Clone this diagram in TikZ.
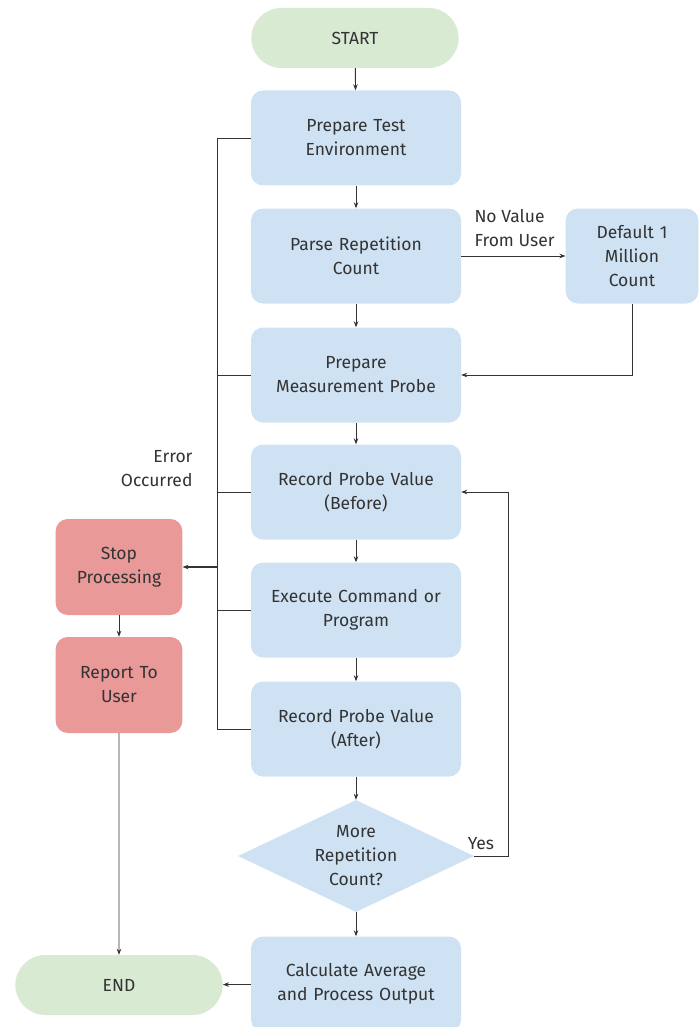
\documentclass[tikz,border=0pt]{standalone}
\usepackage{fontspec}
\setmainfont{Fira Sans}
\usetikzlibrary{shapes.geometric,shapes.misc,arrows.meta}
\definecolor{procfill}{HTML}{CFE2F3}
\definecolor{termfill}{HTML}{D9EAD3}
\definecolor{errfill}{HTML}{EA9999}
\definecolor{txt}{HTML}{333333}
\definecolor{wire}{HTML}{333333}
\begin{document}
\begin{tikzpicture}[x=1pt,y=-1pt,
  every node/.style={font=\fontsize{17.5}{24}\selectfont, text=txt, align=center},
  proc/.style={draw=none, fill=procfill, rounded corners=12pt, minimum width=210pt, minimum height=95pt, text width=200pt},
  errbox/.style={draw=none, fill=errfill, rounded corners=12pt, minimum width=126pt, minimum height=96pt, text width=120pt},
  term/.style={draw=none, fill=termfill, rounded rectangle, minimum width=214pt, minimum height=60pt},
  decide/.style={draw=none, fill=procfill, diamond, aspect=2.1, minimum width=236pt, minimum height=112pt, inner sep=0pt},
  lbl/.style={font=\fontsize{17.5}{24}\selectfont},
  link/.style={draw=wire, line width=0.9pt, -{Stealth[length=6pt,width=4.5pt]}},
  wire/.style={draw=wire, line width=0.9pt}
]
\useasboundingbox (0,0) rectangle (700,1027);

% main column
\node[term] (start) at (355,38) {START};
\node[proc] (env) at (356,138) {Prepare Test\\Environment};
\node[proc] (parse) at (356,256) {Parse Repetition\\Count};
\node[proc, minimum width=132pt, text width=126pt] (dflt) at (632,256) {Default 1\\Million\\Count};
\node[proc] (probe) at (356,375) {Prepare\\Measurement Probe};
\node[proc] (before) at (356,492) {Record Probe Value\\(Before)};
\node[proc] (exec) at (356,610) {Execute Command or\\Program};
\node[proc] (after) at (356,729) {Record Probe Value\\(After)};
\node[decide] (more) at (356,856) {More\\Repetition\\Count?};
\node[proc] (calc) at (356,984) {Calculate Average\\and Process Output};

% error branch
\node[errbox] (stop) at (119,567) {Stop\\Processing};
\node[errbox] (report) at (119,685) {Report To\\User};
\node[term] (end) at (119,985) {END};

% main flow
\draw[link] (start) -- (env);
\draw[link] (env) -- (parse);
\draw[link] (parse) -- (probe);
\draw[link] (probe) -- (before);
\draw[link] (before) -- (exec);
\draw[link] (exec) -- (after);
\draw[link] (after) -- (more.north);
\draw[link] (more.south) -- (calc);
\draw[link] (calc) -- (end);

% default count
\draw[link] (parse.east) -- (dflt.west);
\node[lbl, anchor=south west, align=left] (novalue) at (471,250) {No Value\\From User};
\draw[link] (dflt.south) |- (probe.east);

% repetition loop
\coordinate (loopc) at (508,856);
\draw[link] (more.east) -- (loopc) |- (before.east);
\node[lbl, anchor=south] (yes) at (481,853) {Yes};

% error bus
\coordinate (bustop) at (217,138);
\coordinate (busbot) at (217,729);
\coordinate (bustap) at (217,567);
\draw[wire] (env.west) -- (bustop) -- (busbot) -- (after.west);
\draw[wire] (probe.west) -- (probe.west -| bustop);
\draw[wire] (before.west) -- (before.west -| bustop);
\draw[wire] (exec.west) -- (exec.west -| bustop);
\draw[link, line width=1.6pt] (bustap) -- (stop.east);
\node[lbl, anchor=south east, align=right] (errlbl) at (196,490) {Error\\Occurred};

\draw[link] (stop) -- (report);
\draw[link] (report) -- (end);
\end{tikzpicture}
\end{document}
